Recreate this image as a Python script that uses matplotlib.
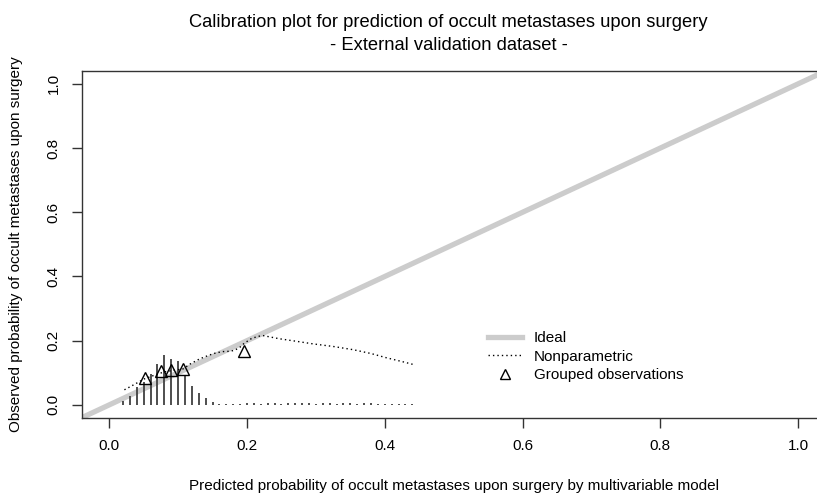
import matplotlib
matplotlib.use('Agg')
import matplotlib.pyplot as plt
from matplotlib.lines import Line2D

plt.rcParams['font.family'] = ['Liberation Sans', 'DejaVu Sans']

# Nonparametric (smoothed) calibration curve
np_x = [0.022, 0.035, 0.051, 0.065, 0.080, 0.095, 0.107, 0.118, 0.131, 0.145,
        0.155, 0.165, 0.175, 0.182, 0.190, 0.196, 0.206, 0.215, 0.223, 0.247,
        0.272, 0.296, 0.325, 0.354, 0.380, 0.402, 0.425, 0.443]
np_y = [0.047, 0.062, 0.081, 0.092, 0.103, 0.108, 0.112, 0.128, 0.143, 0.155,
        0.162, 0.166, 0.167, 0.170, 0.180, 0.192, 0.206, 0.213, 0.216, 0.206,
        0.198, 0.190, 0.182, 0.172, 0.160, 0.147, 0.135, 0.125]

# Grouped observations
grp_x = [0.052, 0.075, 0.090, 0.107, 0.195]
grp_y = [0.083, 0.104, 0.108, 0.111, 0.169]

# Spike histogram of predicted probabilities
spike_x = [0.02, 0.03, 0.04, 0.05, 0.06, 0.07, 0.08, 0.09, 0.10, 0.11,
           0.12, 0.13, 0.14, 0.15, 0.16, 0.17, 0.18, 0.19, 0.20, 0.21,
           0.22, 0.23, 0.24, 0.25, 0.26, 0.27, 0.28, 0.29, 0.30, 0.31,
           0.32, 0.33, 0.34, 0.35, 0.36, 0.37, 0.38, 0.39, 0.40, 0.41,
           0.42, 0.43, 0.44]
spike_h = [0.013, 0.029, 0.055, 0.071, 0.097, 0.126, 0.154, 0.143, 0.138, 0.091,
           0.060, 0.036, 0.022, 0.008, 0.004, 0.004, 0.004, 0.004, 0.005, 0.005,
           0.004, 0.005, 0.005, 0.004, 0.005, 0.006, 0.006, 0.005, 0.004, 0.005,
           0.005, 0.004, 0.006, 0.005, 0.004, 0.005, 0.005, 0.004, 0.004, 0.004,
           0.004, 0.004, 0.004]

ideal = [-0.04, 1.04]
ticks = [0.0, 0.2, 0.4, 0.6, 0.8, 1.0]
tick_labels = ['0.0', '0.2', '0.4', '0.6', '0.8', '1.0']

fig = plt.figure(figsize=(8.17, 4.93), dpi=100)
ax = fig.add_axes([0.1, 0.1527, 0.9105, 0.7032])

ax.plot(ideal, ideal, color='#cccccc', lw=3.8, solid_capstyle='butt', zorder=1)
ax.vlines(spike_x, 0, spike_h, color='#404040', lw=1.3, zorder=2)
ax.plot(np_x, np_y, color='black', lw=1.0, linestyle=(0, (1, 2.2)), zorder=3)
ax.plot(grp_x, grp_y, linestyle='none', marker='^', markersize=8,
        markerfacecolor='none', markeredgecolor='black', markeredgewidth=1.0, zorder=4)

ax.set_xlim(-0.04, 1.04)
ax.set_ylim(-0.04, 1.04)
ax.set_xticks(ticks)
ax.set_xticklabels(tick_labels)
ax.set_yticks(ticks)
ax.set_yticklabels(tick_labels, rotation=90, va='center')
ax.tick_params(direction='out', length=7.2, width=1.0, color='#333333',
               labelsize=11, pad=8)
for s in ax.spines.values():
    s.set_color('#333333')
    s.set_linewidth(1.0)

ax.set_xlabel('Predicted probability of occult metastases upon surgery by multivariable model',
              fontsize=11, labelpad=19)
ax.set_ylabel('Observed probability of occult metastases upon surgery',
              fontsize=11, labelpad=17)
fig.text(0.549, 0.972, 'Calibration plot for prediction of occult metastases upon surgery\n'
         '- External validation dataset -', ha='center', va='top', fontsize=13.2,
         linespacing=1.45)

handles = [
    Line2D([], [], color='#cccccc', lw=3.8),
    Line2D([], [], color='black', lw=1.0, linestyle=(0, (1, 2.2))),
    Line2D([], [], linestyle='none', marker='^', markersize=7,
           markerfacecolor='none', markeredgecolor='black'),
]
ax.legend(handles, ['Ideal', 'Nonparametric', 'Grouped observations'],
          loc='upper left', bbox_to_anchor=(488 / 817, 1 - 331 / 493),
          bbox_transform=fig.transFigure, frameon=False, fontsize=11,
          borderpad=0, borderaxespad=0, handlelength=2.2, handletextpad=0.8,
          labelspacing=0.3)

fig.savefig('out.png', dpi=100)
